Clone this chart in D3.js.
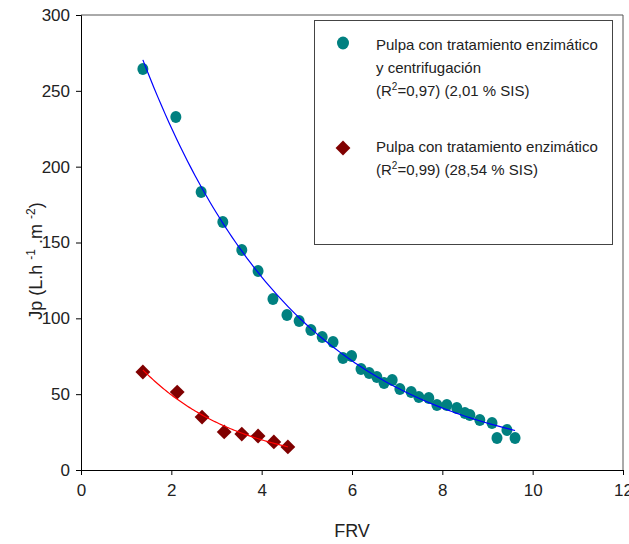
<!DOCTYPE html>
<html>
<head>
<meta charset="utf-8">
<title>Jp vs FRV</title>
<style>
body { margin: 0; background: #fff; }
svg text { font-family: "Liberation Sans", Arial, sans-serif; fill: #222; }
.axis path, .axis line { stroke: #000; }
.frame { stroke: #555; fill: none; }
</style>
</head>
<body>
<svg id="chart" width="629" height="544"></svg>
<script src="https://d3js.org/d3.v7.min.js"></script>
<script>
// pulpa con tratamiento enzimatico y centrifugacion
var cenX = [1.37, 2.10, 2.66, 3.14, 3.56, 3.92, 4.25, 4.56, 4.83, 5.09, 5.34, 5.58, 5.80, 5.99,
            6.20, 6.38, 6.55, 6.71, 6.89, 7.06, 7.31, 7.48, 7.70, 7.88, 8.10, 8.32, 8.50, 8.61,
            8.83, 9.10, 9.21, 9.43, 9.61];
var cenY = [264.4, 232.7, 183.3, 163.5, 145.1, 131.2, 112.7, 102.2, 98.2, 92.3, 87.7, 84.4, 73.8, 75.2,
            66.6, 64.0, 61.3, 57.4, 59.3, 53.4, 51.4, 48.1, 47.5, 42.9, 42.9, 40.9, 37.6, 36.3,
            33.0, 31.0, 21.1, 26.4, 21.1];
// pulpa con tratamiento enzimatico
var enzX = [1.37, 2.13, 2.68, 3.17, 3.56, 3.92, 4.27, 4.58];
var enzY = [64.6, 51.4, 34.9, 25.1, 23.7, 22.4, 18.5, 15.2];

var xTicks = [0, 2, 4, 6, 8, 10, 12];
var yTicks = [0, 50, 100, 150, 200, 250, 300];

var svg = d3.select("#chart");
var mLeft = 81, mRight = 623, mTop = 15, mBottom = 470;

var x = d3.scaleLinear().domain([0, 12]).range([mLeft, mRight]);
var y = d3.scaleLinear().domain([0, 300]).range([mBottom, mTop]);

// frame (top + right)
svg.append("path").attr("class", "frame")
  .attr("d", "M" + mLeft + "," + mTop + "H" + mRight + "V" + mBottom);

svg.append("g").attr("class", "axis")
  .attr("transform", "translate(0," + mBottom + ")")
  .call(d3.axisBottom(x).tickValues(xTicks).tickSizeOuter(0).tickSize(5).tickPadding(9));
svg.append("g").attr("class", "axis")
  .attr("transform", "translate(" + mLeft + ",0)")
  .call(d3.axisLeft(y).tickValues(yTicks).tickSizeOuter(0).tickSize(5).tickPadding(6));
svg.selectAll(".axis text").style("font-size", "17px")
  .style("font-family", "Liberation Sans, Arial, sans-serif").attr("fill", "#222");

// axis titles
svg.append("text").attr("x", 352).attr("y", 537).attr("text-anchor", "middle")
  .style("font-size", "18px").text("FRV");

var ylab = svg.append("text").attr("transform", "translate(42,261) rotate(-90)")
  .attr("text-anchor", "middle").style("font-size", "18px");
ylab.append("tspan").text("Jp (L.h ");
ylab.append("tspan").attr("dy", -7).style("font-size", "12px").text("-1");
ylab.append("tspan").attr("dy", 7).text(" .m ");
ylab.append("tspan").attr("dy", -7).style("font-size", "12px").text("-2");
ylab.append("tspan").attr("dy", 7).text(")");

// fit y = a*exp(-k*x) + c : scan k, linear least squares for a and c
function expFit(xs, ys) {
  var best = null;
  for (var k = 0.01; k <= 2; k += 0.002) {
    var n = xs.length, su = 0, sy = 0, suu = 0, suy = 0;
    for (var i = 0; i < n; i++) {
      var u = Math.exp(-k * xs[i]);
      su += u; sy += ys[i]; suu += u * u; suy += u * ys[i];
    }
    var a = (n * suy - su * sy) / (n * suu - su * su);
    var c = (sy - a * su) / n;
    var sse = 0;
    for (var j = 0; j < n; j++) {
      var r = ys[j] - (a * Math.exp(-k * xs[j]) + c);
      sse += r * r;
    }
    if (!best || sse < best.sse) best = {a: a, c: c, k: k, sse: sse};
  }
  return function(v) { return best.a * Math.exp(-best.k * v) + best.c; };
}

function fitLine(xs, ys, color) {
  var f = expFit(xs, ys);
  var lo = d3.min(xs), hi = d3.max(xs);
  var pts = d3.range(0, 101).map(function(i) { var v = lo + (hi - lo) * i / 100; return [v, f(v)]; });
  svg.append("path")
    .attr("d", d3.line().x(function(d) { return x(d[0]); }).y(function(d) { return y(d[1]); })(pts))
    .attr("fill", "none").attr("stroke", color).attr("stroke-width", 1.2);
}

var cenData = cenX.map(function(v, i) { return [v, cenY[i]]; });
var enzData = enzX.map(function(v, i) { return [v, enzY[i]]; });

svg.append("g").selectAll("ellipse").data(cenData).enter().append("ellipse")
  .attr("cx", function(d) { return x(d[0]); })
  .attr("cy", function(d) { return y(d[1]); })
  .attr("rx", 5.5).attr("ry", 6)
  .attr("fill", "#008080");

var diamond = d3.symbol().type(d3.symbolSquare).size(110);
svg.append("g").selectAll("path").data(enzData).enter().append("path")
  .attr("d", diamond)
  .attr("transform", function(d) { return "translate(" + x(d[0]) + "," + y(d[1]) + ") rotate(45)"; })
  .attr("fill", "#800000");

fitLine(cenX, cenY, "#0000ff");
fitLine(enzX, enzY, "#ff0000");

// legend
var lg = svg.append("g");
lg.append("rect").attr("x", 314.5).attr("y", 20.5).attr("width", 298).attr("height", 224)
  .attr("fill", "#fff").attr("stroke", "#444");
lg.append("ellipse").attr("cx", 343).attr("cy", 43).attr("rx", 6).attr("ry", 6.5).attr("fill", "#008080");
lg.append("path").attr("d", diamond).attr("transform", "translate(343,148) rotate(45)").attr("fill", "#800000");

function legText(yy, parts) {
  var t = lg.append("text").attr("x", 376).attr("y", yy).style("font-size", "15px");
  parts.forEach(function(p) {
    var s = t.append("tspan").text(p[0]);
    if (p[1]) s.attr("dy", p[1]);
    if (p[2]) s.style("font-size", p[2]);
  });
}
legText(50, [["Pulpa con tratamiento enzimático"]]);
legText(73, [["y centrifugación"]]);
legText(96, [["(R"], ["2", -6, "10px"], ["=0,97) (2,01 % SIS)", 6]]);
legText(152, [["Pulpa con tratamiento enzimático"]]);
legText(175, [["(R"], ["2", -6, "10px"], ["=0,99) (28,54 % SIS)", 6]]);
</script>
</body>
</html>
